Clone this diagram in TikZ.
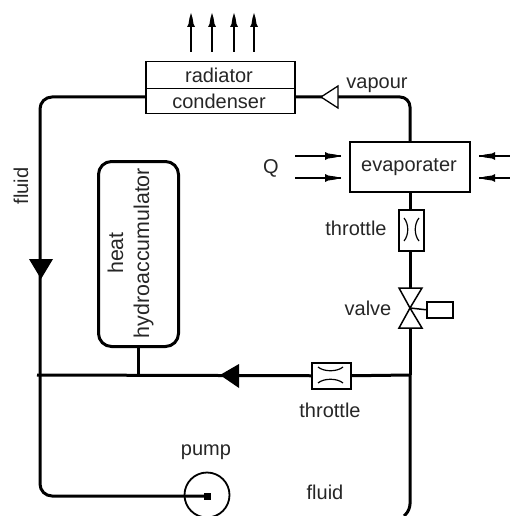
\documentclass[tikz,border=0pt]{standalone}
\usepackage{fontspec}
\setmainfont{Liberation Sans}
\begin{document}
\begin{tikzpicture}[x=1pt,y=-1pt,line join=miter,
  lbl/.style={inner sep=0pt,font=\fontsize{20}{26}\selectfont,text=black!85},
  biglbl/.style={inner sep=0pt,font=\fontsize{21.4}{26}\selectfont,text=black!85},
  pipe/.style={line width=3pt},
  thinbox/.style={draw,line width=1.5pt,fill=white,inner sep=0pt,anchor=north west},
  flowtip/.style={fill=black,draw=none},
  up/.style={line width=1.5pt}]
\useasboundingbox (0,0) rectangle (510,516);
% coordinates
\coordinate (lj) at (40,375);
\coordinate (rj) at (410,375);
\coordinate (rb) at (404,516);
\coordinate (valveC) at (410,308);
\coordinate (vt) at (410,288);
\coordinate (vb) at (410,328);
\coordinate (ct) at (410,97);
\coordinate (cl) at (40,97);
\coordinate (cb) at (40,496);
\coordinate (lw) at (37,375);
% boxes
\node[thinbox,minimum width=149pt,minimum height=27pt] (rad) at (145,61) {};
\node[thinbox,minimum width=149pt,minimum height=25pt] (con) at (145,88) {};
\node[thinbox,minimum width=120pt,minimum height=50pt] (eva) at (349,141) {};
\node[thinbox,minimum width=25pt,minimum height=41pt] (tv) at (398,209) {};
\node[thinbox,minimum width=39pt,minimum height=26pt] (th) at (311,362) {};
\node[thinbox,minimum width=26pt,minimum height=16pt] (act) at (426,301) {};
\node[draw,line width=3pt,rounded corners=13pt,minimum width=80pt,minimum height=185pt,inner sep=0pt,anchor=north west] (acc) at (97,160) {};
\node[circle,draw,line width=1.8pt,fill=white,minimum size=45pt,inner sep=0pt] (pump) at (207,495) {};
\node[fill=black,minimum size=7pt,inner sep=0pt] (pc) at (207,496) {};
% text
\node[lbl] at (219,75) {radiator};
\node[lbl] at (219,101) {condenser};
\node[lbl] at (409,167) {evaporater};
\node[lbl] at (377,85) {vapour};
\node[lbl] at (271,168) {Q};
\node[lbl] at (356,228) {throttle};
\node[lbl] at (368,308) {valve};
\node[lbl] at (330,410) {throttle};
\node[lbl] at (206,452) {pump};
\node[lbl] at (325,492) {fluid};
\node[lbl,rotate=90] at (21,186) {fluid};
\node[biglbl,rotate=90,align=center] at (130.5,253) {heat\\hydroaccumulator};
% pipes
\draw[pipe,rounded corners=10pt] (con.east |- ct) -- (ct) -- (ct |- eva.north);
\draw[pipe,rounded corners=12pt] (con.west |- cl) -- (cl) -- (cb) -- (pc.center);
\draw[pipe] (ct |- eva.south) -- (ct |- tv.north);
\draw[pipe] (ct |- tv.south) -- (vt);
\draw[pipe] (vb) -- (rj);
\draw[pipe,rounded corners=6pt] (rj) -- (410,510) -- (rb);
\draw[pipe] (lw) -- (th.west);
\draw[pipe] (th.east) -- (rj);
\draw[pipe] (acc.south) -- (acc.south |- lj);
% flow tips
\fill[flowtip] (29,259) -- (53,259) -- (41,279) -- cycle;
\fill[flowtip] (220,375) -- (239,364) -- (239,388) -- cycle;
\draw[line width=1.3pt,fill=white] (321,97) -- (338,86) -- (338,108) -- cycle;
% valve
\draw[line width=1.5pt,fill=white] (399,288) -- (422,288) -- (valveC) -- (422,328) -- (399,328) -- (valveC) -- cycle;
\draw[line width=1.5pt] (valveC) -- (act.west);
% throttle curves
\draw[line width=1.2pt] (404,218) .. controls (409,224) and (409,235) .. (404,241);
\draw[line width=1.2pt] (419,218) .. controls (414,224) and (414,235) .. (419,241);
\draw[line width=1.2pt] (318,367) .. controls (324,372) and (337,372) .. (343,367);
\draw[line width=1.2pt] (318,383) .. controls (324,378) and (337,378) .. (343,383);
% heat arrows
\foreach \x in {191,212,234,254}{
  \draw[up] (\x,52) -- (\x,20);
  \fill (\x-4,27) -- (\x-2.5,24) -- (\x-1.5,18) -- (\x,13) -- (\x+1.5,18) -- (\x+2.5,24) -- (\x+4,27) -- cycle;
}
\foreach \y in {156,178}{
  \draw[up] (295,\y) -- (341,\y);
  \fill (341,\y) -- (335,\y+1.5) -- (328,\y+2.5) -- (325,\y+4) -- (325,\y-4) -- (328,\y-2.5) -- (335,\y-1.5) -- cycle;
  \draw[up] (510,\y) -- (479,\y);
  \fill (479,\y) -- (485,\y+1.5) -- (492,\y+2.5) -- (495,\y+4) -- (495,\y-4) -- (492,\y-2.5) -- (485,\y-1.5) -- cycle;
}
\end{tikzpicture}
\end{document}
